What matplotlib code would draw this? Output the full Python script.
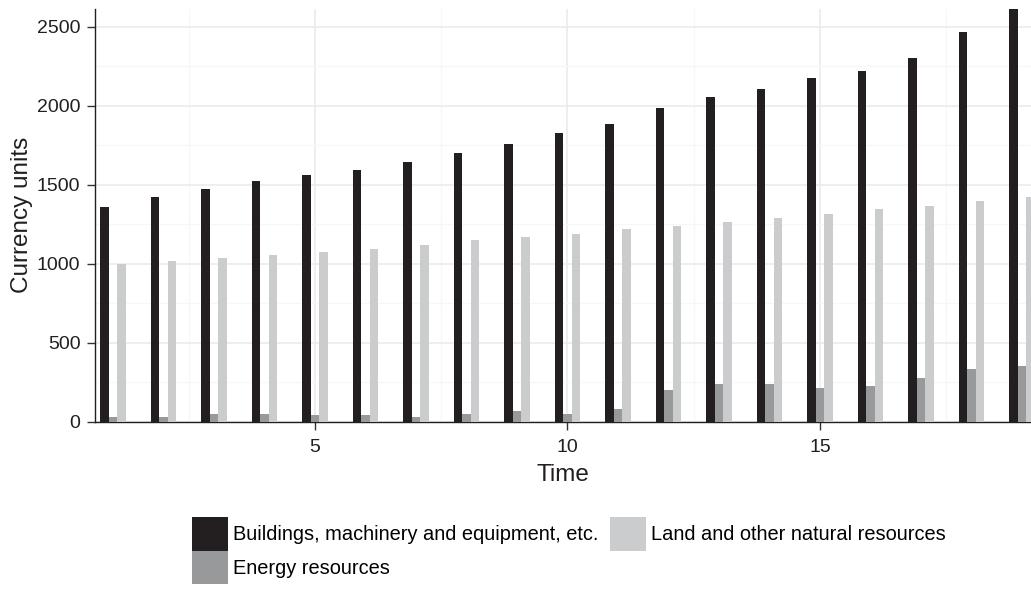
import numpy as np
import matplotlib
matplotlib.use("Agg")
import matplotlib.pyplot as plt
from matplotlib.patches import Patch

plt.rcParams["font.family"] = ["Liberation Sans", "DejaVu Sans"]

time = np.arange(1, 20)

buildings = [1355, 1420, 1470, 1520, 1558, 1590, 1640, 1697, 1754, 1823,
             1880, 1982, 2052, 2102, 2172, 2217, 2299, 2464, 2611]
energy = [28, 28, 47, 47, 41, 41, 28, 47, 66, 47,
          79, 200, 238, 238, 212, 225, 275, 332, 351]
land = [1000, 1019, 1038, 1057, 1076, 1095, 1115, 1146, 1165, 1185,
        1217, 1236, 1261, 1286, 1311, 1343, 1362, 1394, 1420]

labels = ["Buildings, machinery and equipment, etc.",
          "Energy resources",
          "Land and other natural resources"]
COLORS = ["#231f20", "#98999b", "#cbcccd"]

W, H = 1031, 589
fig = plt.figure(figsize=(W / 100, H / 100), dpi=100)
ax = fig.add_axes([95 / W, 1 - 421.5 / H, (W - 95) / W, (421.5 - 9) / H])

# three dodged bars per time step
bw = 1 / 6
for i, (vals, col) in enumerate(zip([buildings, energy, land], COLORS)):
    ax.bar(time + (i - 1) * bw, vals, width=bw, color=col, linewidth=0, zorder=3)

ax.set_xlim(0.644, 19.18)
ax.set_ylim(0, max(buildings))

ax.set_xticks([5, 10, 15])
ax.set_xticks([2.5, 7.5, 12.5, 17.5], minor=True)
ax.set_yticks(np.arange(0, 2501, 500))
ax.set_yticks(np.arange(250, 2600, 500), minor=True)

ax.grid(which="major", color="#ebebeb", linewidth=1.2, zorder=0)
ax.grid(which="minor", color="#f7f7f7", linewidth=1.0, zorder=0)
ax.set_axisbelow(True)

for s in ["top", "right"]:
    ax.spines[s].set_visible(False)
for s in ["left", "bottom"]:
    ax.spines[s].set_color("#231f20")
    ax.spines[s].set_linewidth(1.0)

ax.tick_params(which="major", length=5.5, width=1, color="#333333",
               labelsize=14, labelcolor="#231f20")
ax.tick_params(axis="x", pad=7)
ax.tick_params(axis="y", pad=5)
ax.tick_params(which="minor", length=0)

ax.set_xlabel("Time", fontsize=17.5, color="#231f20", labelpad=6)
ax.set_ylabel("Currency units", fontsize=17.5, color="#231f20", labelpad=3)

handles = [Patch(facecolor=c, edgecolor="none") for c in COLORS]
fig.legend(handles, labels, loc="upper left", bbox_to_anchor=(192 / W, 1 - 517 / H),
           ncol=2, frameon=False, fontsize=14.4,
           handlelength=1.8, handleheight=2.2, handletextpad=0.25,
           columnspacing=0.6, labelspacing=0.0, borderpad=0.0, borderaxespad=0.0)

fig.savefig("out.png", dpi=100)
